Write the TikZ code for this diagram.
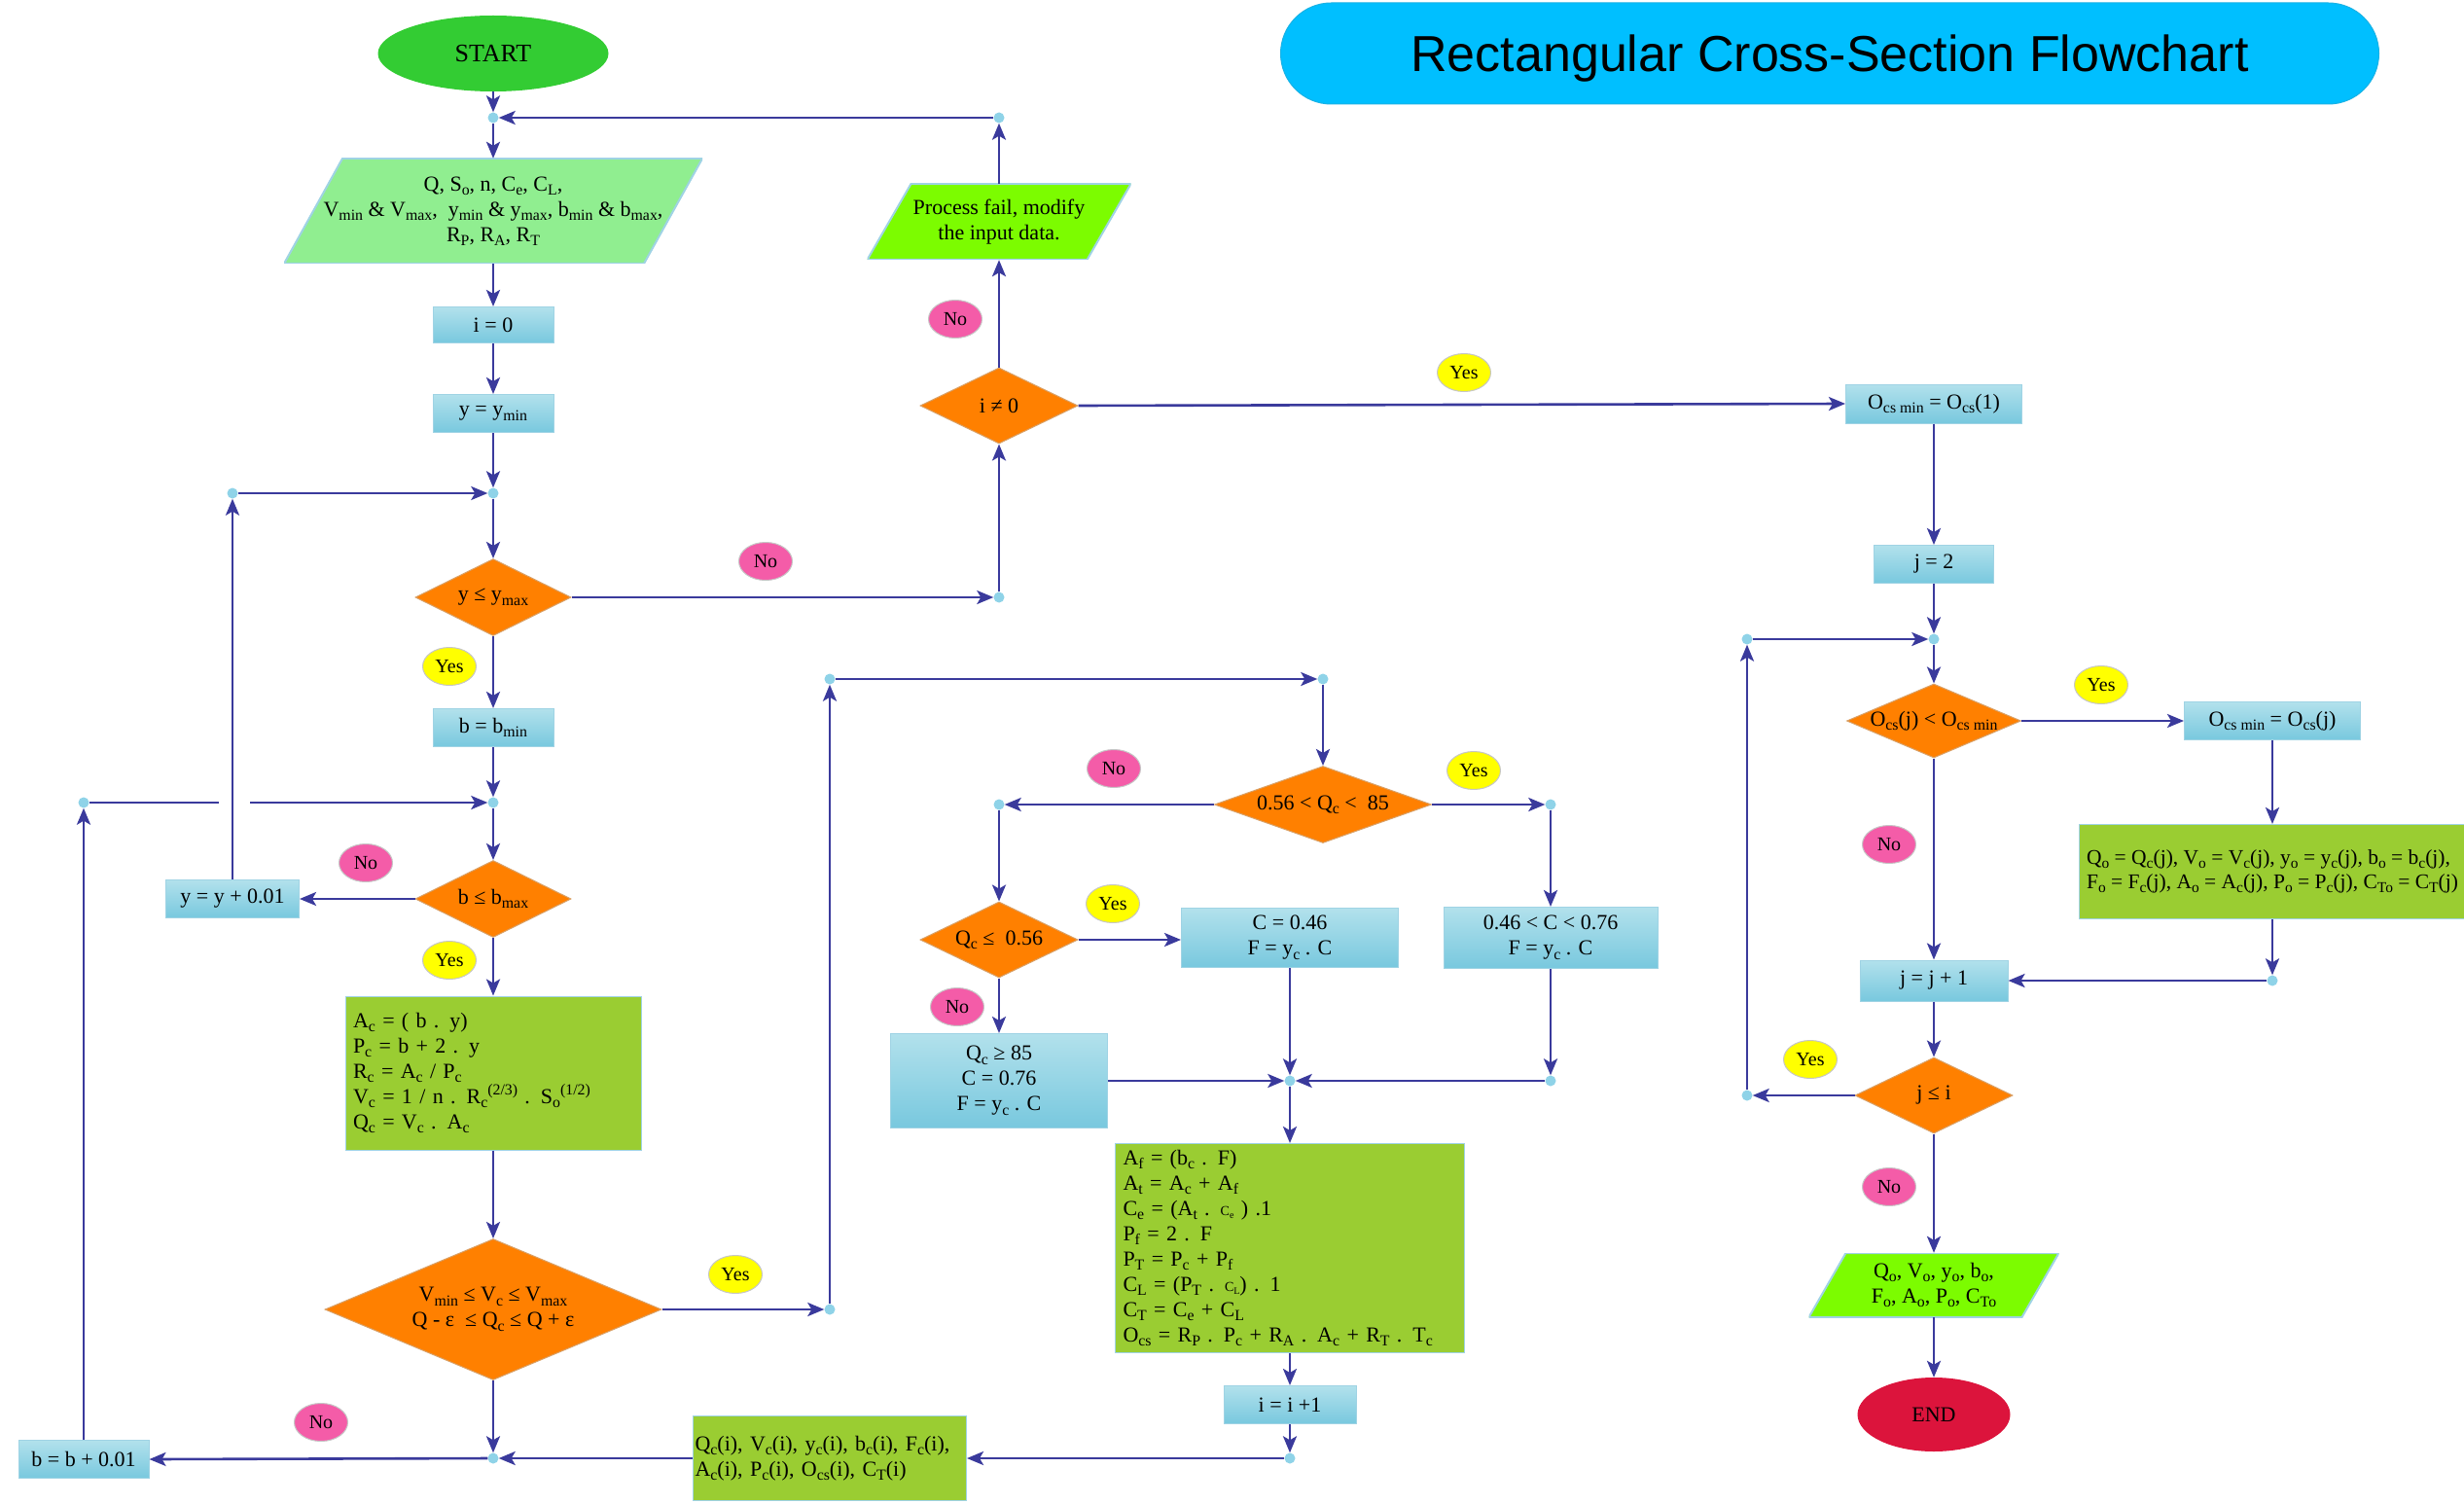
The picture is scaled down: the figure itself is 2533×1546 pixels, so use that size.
\documentclass[tikz,border=0pt]{standalone}
\usepackage{fontspec}
\setmainfont{Liberation Serif}
\newfontfamily\titlefont{Liberation Sans}
\usetikzlibrary{shapes.geometric,arrows.meta}
\makeatletter
\newcommand{\sbs}[1]{\raisebox{-0.2em}{\fontsize{\fpeval{0.72*\f@size}}{\fpeval{0.8*\f@size}}\selectfont #1}}
\newcommand{\sps}[1]{\raisebox{0.42em}{\fontsize{\fpeval{0.72*\f@size}}{\fpeval{0.8*\f@size}}\selectfont #1}}
\makeatother
\newcommand{\tinyc}[1]{{\fontsize{14}{16}\selectfont #1}}
\definecolor{linec}{HTML}{3A3A9C}
\definecolor{boxtop}{HTML}{B2E1EC}
\definecolor{boxbot}{HTML}{78C8DE}
\definecolor{boxedge}{HTML}{9FD3E4}
\definecolor{dia}{HTML}{FF8000}
\definecolor{diaedge}{HTML}{D9A066}
\definecolor{lgreen}{HTML}{90EE90}
\definecolor{ygreen}{HTML}{9ACD32}
\definecolor{chart}{HTML}{7CFC00}
\definecolor{startg}{HTML}{33CC33}
\definecolor{endr}{HTML}{DC143C}
\definecolor{yesc}{HTML}{FFFF00}
\definecolor{noc}{HTML}{F45CA8}
\definecolor{titlec}{HTML}{00BFFF}
\definecolor{dotc}{HTML}{8FD3E8}
\tikzset{
  base/.style={font=\fontsize{22}{26}\selectfont, align=center, inner sep=0pt, text=black},
  pbox/.style={base, rectangle, draw=boxedge, line width=1pt, top color=boxtop, bottom color=boxbot},
  gbox/.style={base, rectangle, draw=boxedge, line width=1pt, fill=ygreen, align=left, inner ysep=0pt},
  dtext/.style={font=\fontsize{22}{26}\selectfont, align=center, inner sep=0pt, text=black},
  dec/.style={diamond, fill=dia, draw=diaedge, line width=1pt, inner sep=0pt},
  io/.style 2 args={base, rectangle, path picture={
      \filldraw[fill=#1, draw=boxedge, line width=2pt]
        ([xshift=#2]path picture bounding box.north west) -- (path picture bounding box.north east)
        -- ([xshift=-#2]path picture bounding box.south east) -- (path picture bounding box.south west) -- cycle;}},
  term/.style={base, ellipse},
  yeslab/.style={ellipse, fill=yesc, draw=gray!45, line width=1pt, inner sep=0pt, minimum width=55pt, minimum height=39pt, font=\fontsize{20}{24}\selectfont},
  nolab/.style={ellipse, fill=noc, draw=gray!45, line width=1pt, inner sep=0pt, minimum width=55pt, minimum height=39pt, font=\fontsize{20}{24}\selectfont},
  jd/.style={circle, fill=dotc, inner sep=0pt, minimum size=11pt},
  arr/.style={line width=2.6pt, draw=linec, -{Stealth[length=17pt,width=14pt,inset=4pt]}},
  ln/.style={line width=2.6pt, draw=linec},
}
\begin{document}
\begin{tikzpicture}[x=1pt,y=-1pt]
\useasboundingbox (0,0) rectangle (2533,1546);
\fill[white] (0,0) rectangle (2533,1546);

% title
\node[rectangle, rounded corners=52pt, fill=titlec, draw=titlec!80!gray, line width=1pt, minimum width=1129pt, minimum height=104pt,
  label={[font=\titlefont\fontsize{52}{60}\selectfont, inner sep=0pt, yshift=-5pt]center:Rectangular Cross-Section Flowchart}] (title) at (1881,55) {};

% left column
\node[term, fill=startg, minimum width=237pt, minimum height=78pt, font=\fontsize{26}{30}\selectfont] (start) at (507,55) {START};
\node[jd] (j1) at (507,121) {};
\node[jd] (dtop) at (1027,121) {};
\node[io={lgreen}{60pt}, minimum width=430pt, minimum height=108pt] (inp) at (507,217) {Q, S\sbs{o}, n, C\sbs{e}, C\sbs{L},\\V\sbs{min} \& V\sbs{max},\ \ y\sbs{min} \& y\sbs{max}, b\sbs{min} \& b\sbs{max},\\R\sbs{P}, R\sbs{A}, R\sbs{T}};
\node[pbox, minimum width=124pt, minimum height=37pt] (i0) at (507,334) {i = 0};
\node[pbox, minimum width=124pt, minimum height=39pt] (ymin) at (507,425) {y = y\sbs{min}};
\node[jd] (j2) at (507,507) {};
\node[dec, minimum width=160pt, minimum height=79pt, label={[dtext]center:{y ≤ y\sbs{max}}}] (dy) at (507,614) {};
\node[yeslab] (yes1) at (462,685) {Yes};
\node[pbox, minimum width=124pt, minimum height=39pt] (bmin) at (507,748) {b = b\sbs{min}};
\node[jd] (j3) at (507,825) {};
\node[dec, minimum width=160pt, minimum height=79pt, label={[dtext]center:{b ≤ b\sbs{max}}}] (db) at (507,924) {};
\node[nolab] (no1) at (376,887) {No};
\node[pbox, minimum width=137pt, minimum height=39pt] (yinc) at (239,924) {y = y + 0.01};
\node[jd] (dyl) at (239,507) {};
\node[yeslab] (yes2) at (462,987) {Yes};
\node[gbox, minimum height=158pt, text width=288pt, inner xsep=8pt] (f1) at (507,1103) {A\sbs{c} = ( b . y)\\P\sbs{c} = b + 2 . y\\R\sbs{c} = A\sbs{c} / P\sbs{c}\\V\sbs{c} = 1 / n . R\sbs{c}\sps{(2/3)} . S\sbs{o}\sps{(1/2)}\\Q\sbs{c} = V\sbs{c} . A\sbs{c}};
\node[dec, minimum width=346pt, minimum height=145pt, label={[dtext]center:{V\sbs{min} ≤ V\sbs{c} ≤ V\sbs{max}\\Q - ε\ \ ≤ Q\sbs{c} ≤ Q + ε}}] (dv) at (507,1346) {};
\node[yeslab] (yes3) at (756,1310) {Yes};
\node[jd] (dv1) at (853,1346) {};
\node[jd] (dv2) at (853,698) {};
\node[jd] (dv3) at (1360,698) {};
\node[nolab] (no2) at (330,1462) {No};
\node[jd] (j4) at (507,1499) {};
\node[pbox, minimum width=134pt, minimum height=39pt] (binc) at (86,1500) {b = b + 0.01};
\node[jd] (dbl) at (86,825) {};
\coordinate (gapl) at (225,825);
\coordinate (gapr) at (257,825);
\node[gbox, text width=277pt, inner xsep=2pt, minimum height=87pt] (qi) at (853,1499) {Q\sbs{c}(i), V\sbs{c}(i), y\sbs{c}(i), b\sbs{c}(i), F\sbs{c}(i),\\A\sbs{c}(i), P\sbs{c}(i), O\sbs{cs}(i), C\sbs{T}(i)};

% middle
\node[dec, minimum width=223pt, minimum height=79pt, label={[dtext]center:{0.56 < Q\sbs{c} <\ \ 85}}] (dq) at (1360,827) {};
\node[nolab] (no3) at (1145,790) {No};
\node[yeslab] (yes4) at (1515,792) {Yes};
\node[jd] (dq1) at (1027,827) {};
\node[jd] (dq2) at (1594,827) {};
\node[dec, minimum width=162pt, minimum height=78pt, label={[dtext]center:{Q\sbs{c} ≤\ \ 0.56}}] (dq56) at (1027,966) {};
\node[yeslab] (yes5) at (1144,929) {Yes};
\node[pbox, minimum width=223pt, minimum height=61pt] (c46) at (1326,964) {C = 0.46\\F = y\sbs{c} . C};
\node[pbox, minimum width=220pt, minimum height=63pt] (c76) at (1594,964) {0.46 < C < 0.76\\F = y\sbs{c} . C};
\node[nolab] (no4) at (984,1035) {No};
\node[pbox, minimum width=223pt, minimum height=97pt] (c85) at (1027,1111) {Q\sbs{c} ≥ 85\\C = 0.76\\F = y\sbs{c} . C};
\node[jd] (j6) at (1326,1111) {};
\node[jd] (dq3) at (1594,1111) {};
\node[gbox, text width=343pt, inner xsep=8pt, minimum height=215pt] (f2) at (1326,1283) {A\sbs{f} = (b\sbs{c} . F)\\A\sbs{t} = A\sbs{c} + A\sbs{f}\\C\sbs{e} = (A\sbs{t} . \tinyc{C\sbs{e}} ) .1\\P\sbs{f} = 2 . F\\P\sbs{T} = P\sbs{c} + P\sbs{f}\\C\sbs{L} = (P\sbs{T} . \tinyc{C\sbs{L}}) . 1\\C\sbs{T} = C\sbs{e} + C\sbs{L}\\O\sbs{cs} = R\sbs{P} . P\sbs{c} + R\sbs{A} . A\sbs{c} + R\sbs{T} . T\sbs{c}};
\node[pbox, minimum width=136pt, minimum height=39pt] (iinc) at (1326,1444) {i = i +1};
\node[jd] (di) at (1326,1499) {};

% top middle
\node[io={chart}{45pt}, minimum width=271pt, minimum height=78pt] (fail) at (1027,228) {Process fail, modify\\ the input data.};
\node[nolab] (no5) at (982,328) {No};
\node[dec, minimum width=162pt, minimum height=78pt, label={[dtext]center:{i ≠ 0}}] (di0) at (1027,417) {};
\node[jd] (dyr) at (1027,614) {};
\node[nolab] (no6) at (787,577) {No};
\node[yeslab] (yes6) at (1505,383) {Yes};
\node[pbox, minimum width=181pt, minimum height=40pt] (ocs1) at (1988,415) {O\sbs{cs min} = O\sbs{cs}(1)};

% right column
\node[pbox, minimum width=123pt, minimum height=39pt] (jtwo) at (1988,580) {j = 2};
\node[jd] (j5) at (1988,657) {};
\node[dec, minimum width=179pt, minimum height=76pt, label={[dtext]center:{O\sbs{cs}(j) < O\sbs{cs min}}}] (do) at (1988,741) {};
\node[yeslab] (yes7) at (2160,704) {Yes};
\node[pbox, minimum width=181pt, minimum height=39pt] (ocsj) at (2336,741) {O\sbs{cs min} = O\sbs{cs}(j)};
\node[gbox, minimum width=397pt, minimum height=97pt, font=\fontsize{21.5}{25}\selectfont] (g3) at (2336,896) {Q\sbs{o} = Q\sbs{c}(j), V\sbs{o} = V\sbs{c}(j), y\sbs{o} = y\sbs{c}(j), b\sbs{o} = b\sbs{c}(j),\\F\sbs{o} = F\sbs{c}(j), A\sbs{o} = A\sbs{c}(j), P\sbs{o} = P\sbs{c}(j), C\sbs{To} = C\sbs{T}(j)};
\node[jd] (dr) at (2336,1008) {};
\node[nolab] (no7) at (1942,868) {No};
\node[pbox, minimum width=152pt, minimum height=42pt] (jinc) at (1988,1008) {j = j + 1};
\node[dec, minimum width=162pt, minimum height=78pt, label={[dtext]center:{j ≤ i}}] (dj) at (1988,1126) {};
\node[yeslab] (yes8) at (1861,1089) {Yes};
\node[jd] (djl) at (1796,1126) {};
\node[jd] (djt) at (1796,657) {};
\node[nolab] (no8) at (1942,1220) {No};
\node[io={chart}{38pt}, minimum width=257pt, minimum height=66pt] (out) at (1988,1321) {Q\sbs{o}, V\sbs{o}, y\sbs{o}, b\sbs{o},\\F\sbs{o}, A\sbs{o}, P\sbs{o}, C\sbs{To}};
\node[term, fill=endr, minimum width=157pt, minimum height=76pt] (endn) at (1988,1454) {END};

% connectors left
\draw[arr] (start) -- (j1);
\draw[arr] (dtop) -- (j1);
\draw[arr] (j1) -- (inp);
\draw[arr] (inp) -- (i0);
\draw[arr] (i0) -- (ymin);
\draw[arr] (ymin) -- (j2);
\draw[arr] (j2) -- (dy);
\draw[arr] (dy) -- (bmin);
\draw[arr] (bmin) -- (j3);
\draw[arr] (j3) -- (db);
\draw[arr] (db.west) -- (yinc.east);
\draw[arr] (yinc.north) -- (dyl);
\draw[arr] (dyl) -- (j2);
\draw[arr] (db) -- (f1);
\draw[arr] (f1) -- (dv);
\draw[arr] (dv.east) -- (dv1);
\draw[arr] (dv1) -- (dv2);
\draw[arr] (dv2) -- (dv3);
\draw[arr] (dv3) -- (dq);
\draw[arr] (dv.south) -- (j4);
\draw[arr] (qi.west) -- (j4);
\draw[arr] (j4) -- (binc.east);
\draw[arr] (binc.north) -- (dbl);
\draw[ln] (dbl) -- (gapl);
\draw[arr] (gapr) -- (j3);
% top middle
\draw[arr] (dy.east) -- (dyr);
\draw[arr] (dyr) -- (di0.south);
\draw[arr] (di0.north) -- (fail.south);
\draw[arr] (fail.north) -- (dtop);
\draw[arr] (di0.east) -- (ocs1.west);
% middle
\draw[arr] (dq.west) -- (dq1);
\draw[arr] (dq1) -- (dq56.north);
\draw[arr] (dq.east) -- (dq2);
\draw[arr] (dq2) -- (c76.north);
\draw[arr] (dq56.east) -- (c46.west |- dq56.east);
\draw[arr] (dq56.south) -- (c85.north);
\draw[arr] (c85.east) -- (j6);
\draw[arr] (c46.south) -- (j6);
\draw[arr] (c76.south) -- (dq3);
\draw[arr] (dq3) -- (j6);
\draw[arr] (j6) -- (f2);
\draw[arr] (f2) -- (iinc);
\draw[arr] (iinc) -- (di);
\draw[arr] (di) -- (qi.east);
% right
\draw[arr] (ocs1) -- (jtwo);
\draw[arr] (jtwo) -- (j5);
\draw[arr] (j5) -- (do);
\draw[arr] (do.east) -- (ocsj.west);
\draw[arr] (ocsj) -- (g3);
\draw[arr] (g3.south) -- (dr);
\draw[arr] (dr) -- (jinc.east);
\draw[arr] (do.south) -- (jinc.north);
\draw[arr] (jinc) -- (dj);
\draw[arr] (dj.west) -- (djl);
\draw[arr] (djl) -- (djt);
\draw[arr] (djt) -- (j5);
\draw[arr] (dj.south) -- (out.north);
\draw[arr] (out.south) -- (endn);
\end{tikzpicture}
\end{document}
